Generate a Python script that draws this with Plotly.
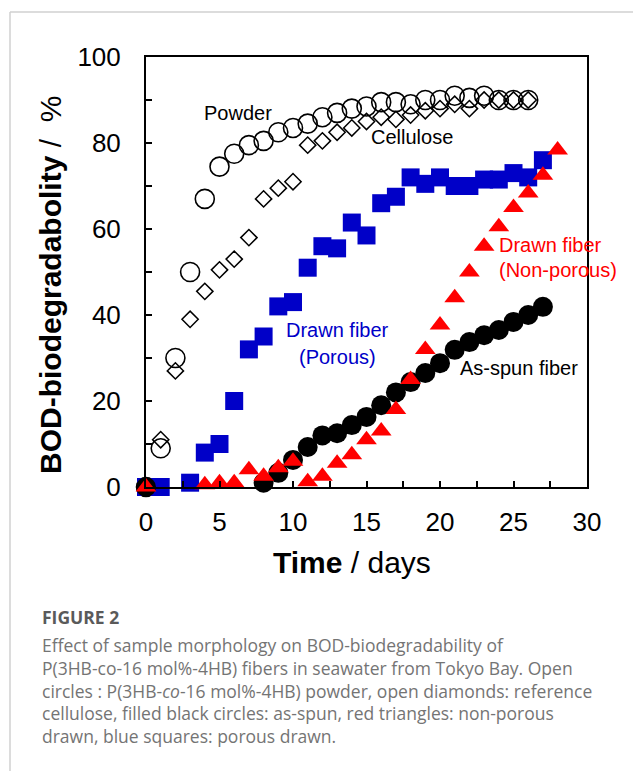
import plotly.graph_objects as go

# ---------------- data ----------------
powder_days = list(range(0, 27))
powder_vals = [0, 9, 30, 50, 67, 74.5, 77.5, 79.5, 80.5, 82.5, 83.5, 84.5, 86, 87, 88, 88.5,
               89.5, 89.5, 89, 90, 90, 91, 90.5, 91, 90, 90, 90]

cellulose_days = list(range(0, 27))
cellulose_vals = [0, 11, 27, 39, 45.5, 50.5, 53, 58, 67, 69.5, 71, 79.5, 80.5, 82.5, 83.5, 85,
                  86, 85.5, 86.5, 87.5, 88, 89, 88, 90, 90, 90, 90]

porous_days = [0, 1] + list(range(3, 28))
porous_vals = [0, 0, 1, 8, 10, 20, 32, 35, 42, 43, 51, 56, 55.5, 61.5, 58.5, 66, 67.5, 72,
               70.5, 72, 70, 70, 71.5, 71.5, 73, 72, 76]

asspun_days = [0] + list(range(8, 28))
asspun_vals = [0, 1, 3.3, 6.3, 9.3, 12, 12.5, 14.4, 16.3, 19, 22, 24.4, 26.5, 28.8, 31.9,
               33.7, 35.3, 36.5, 38.4, 40, 41.9]

nonporous_days = [0] + list(range(4, 29))
nonporous_vals = [0, 0.5, 1, 1, 4, 2.5, 4.5, 6, 1.2, 2.5, 5.5, 7.5, 11, 13, 18, 25, 32,
                  37.7, 44, 50, 56, 60.5, 65, 68.4, 72.5, 78.4]

x_ticks = [0, 5, 10, 15, 20, 25, 30]
y_ticks = [0, 20, 40, 60, 80, 100]

caption_title = "FIGURE 2"
caption_lines = [
    "Effect of sample morphology on BOD-biodegradability of",
    "P(3HB-co-16 mol%-4HB) fibers in seawater from Tokyo Bay. Open",
    "circles : P(3HB-<i>co</i>-16 mol%-4HB) powder, open diamonds: reference",
    "cellulose, filled black circles: as-spun, red triangles: non-porous",
    "drawn, blue squares: porous drawn.",
]

# ---------------- figure ----------------
OFF = 8  # page body margin
W, H = 641 - OFF, 771 - OFF
L, R, T, B = 146, 587, 57, 487      # target page pixels of plot frame
pw, ph = R - L, B - T

def px(x):
    return (x - L) / pw

def py(y):
    return 1 - (y - T) / ph

FONT = "Arial, Liberation Sans, sans-serif"
CAPFONT = "Open Sans, sans-serif"

fig = go.Figure()
fig.add_trace(go.Scatter(x=powder_days, y=powder_vals, mode="markers", cliponaxis=False,
                         marker=dict(symbol="circle-open", size=19, color="black",
                                     line=dict(width=1.6, color="black"))))
fig.add_trace(go.Scatter(x=cellulose_days, y=cellulose_vals, mode="markers", cliponaxis=False,
                         marker=dict(symbol="diamond-open", size=12.5, color="black",
                                     line=dict(width=1.5, color="black"))))
fig.add_trace(go.Scatter(x=porous_days, y=porous_vals, mode="markers", cliponaxis=False,
                         marker=dict(symbol="square", size=18, color="#0000c8",
                                     line=dict(width=0))))
fig.add_trace(go.Scatter(x=asspun_days, y=asspun_vals, mode="markers", cliponaxis=False,
                         marker=dict(symbol="circle", size=20, color="black",
                                     line=dict(width=0))))
fig.add_trace(go.Scatter(x=nonporous_days, y=nonporous_vals, mode="markers", cliponaxis=False,
                         marker=dict(symbol="triangle-up", size=18, color="#ff0000",
                                     line=dict(width=0))))

ann = []
def label(x, y, text, color, anchor="left", size=20):
    ann.append(dict(x=x, y=y, xref="x", yref="y", text=text, showarrow=False,
                    xanchor=anchor, yanchor="middle",
                    font=dict(family=FONT, size=size, color=color)))

label(3.8, 87, "Powder", "black")
label(15.17, 81.4, "Cellulose", "black")
label(13.06, 36.5, "Drawn fiber", "#0000c8", anchor="center")
label(13.06, 30.2, "(Porous)", "#0000c8", anchor="center")
label(23.9, 56.3, "Drawn fiber", "#ff0000")
label(23.9, 50.5, "(Non-porous)", "#ff0000")
label(21.2, 27.7, "As-spun fiber", "black")

# axis titles
ann.append(dict(x=px(352), y=py(562), xref="paper", yref="paper", showarrow=False,
                text="<b>Time</b> / days", xanchor="center", yanchor="middle",
                font=dict(family=FONT, size=30, color="black")))
ann.append(dict(x=px(50), y=py(285), xref="paper", yref="paper", showarrow=False,
                text="<b>BOD-biodegradabolity</b> /  %", textangle=-90,
                xanchor="center", yanchor="middle",
                font=dict(family=FONT, size=30, color="black")))

# caption
ann.append(dict(x=px(40), y=py(617), xref="paper", yref="paper", showarrow=False,
                text="<b>" + caption_title + "</b>", xanchor="left", yanchor="middle",
                font=dict(family=CAPFONT, size=17.5, color="#5a5a5a")))
for i, line in enumerate(caption_lines):
    ann.append(dict(x=px(40), y=py(645 + i * 22.8), xref="paper", yref="paper",
                    showarrow=False, text=line, xanchor="left", yanchor="middle",
                    font=dict(family=CAPFONT, size=17.5, color="#747474")))

fig.update_layout(
    width=W, height=H,
    margin=dict(l=L - OFF, r=W - (R - OFF), t=T - OFF, b=H - (B - OFF), pad=0),
    paper_bgcolor="white", plot_bgcolor="white",
    showlegend=False,
    annotations=ann,
    shapes=[
        dict(type="line", xref="paper", yref="paper", x0=px(10), x1=px(641),
             y0=py(12), y1=py(12), line=dict(color="#d0d0d0", width=1.5)),
        dict(type="line", xref="paper", yref="paper", x0=px(10), x1=px(10),
             y0=py(12), y1=py(771), line=dict(color="#d0d0d0", width=1.5)),
    ],
)
fig.update_xaxes(range=[0, 30], tickvals=x_ticks, ticktext=[str(v) for v in x_ticks],
                 showgrid=False, zeroline=False, showline=True, mirror=True,
                 linecolor="black", linewidth=2, ticks="inside", ticklen=6,
                 tickwidth=1.5, tickcolor="black", ticklabelstandoff=11,
                 minor=dict(dtick=2.5, tick0=0, ticks="inside", ticklen=6, tickwidth=1.5,
                            tickcolor="black", showgrid=False),
                 tickfont=dict(family=FONT, size=26, color="black"))
fig.update_yaxes(range=[0, 100], tickvals=y_ticks, ticktext=[str(v) for v in y_ticks],
                 showgrid=False, zeroline=False, showline=True, mirror=True,
                 linecolor="black", linewidth=2, ticks="inside", ticklen=6,
                 tickwidth=1.5, tickcolor="black", ticklabelstandoff=18,
                 minor=dict(dtick=10, tick0=0, ticks="inside", ticklen=6, tickwidth=1.5,
                            tickcolor="black", showgrid=False),
                 tickfont=dict(family=FONT, size=26, color="black"))

fig.write_html("out.html")
